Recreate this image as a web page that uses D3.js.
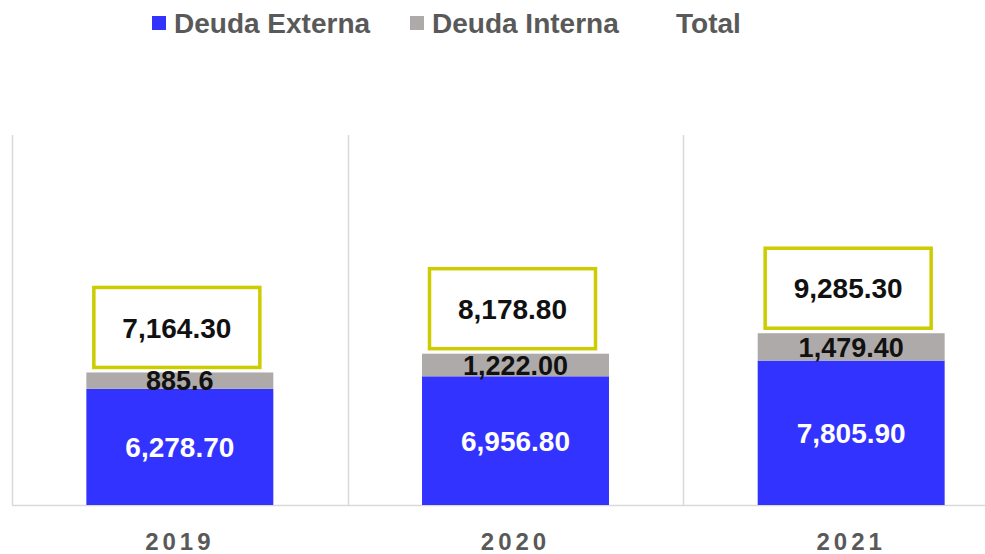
<!DOCTYPE html>
<html>
<head>
<meta charset="utf-8">
<script src="https://cdn.jsdelivr.net/npm/d3@7"></script>
<style>
  body { margin: 0; background: #fff; }
  svg { display: block; font-family: "Liberation Sans", Arial, sans-serif; }
</style>
</head>
<body>
<div id="chart"></div>
<script>
const years = ["2019", "2020", "2021"];
const deudaExterna = [6278.7, 6956.8, 7805.9];
const deudaInterna = [885.6, 1222.0, 1479.4];
const totals = [7164.3, 8178.8, 9285.3];
const externaLabels = ["6,278.70", "6,956.80", "7,805.90"];
const internaLabels = ["885.6", "1,222.00", "1,479.40"];
const totalLabels = ["7,164.30", "8,178.80", "9,285.30"];
const legendItems = ["Deuda Externa", "Deuda Interna", "Total"];

const width = 985, height = 554;
const colors = { ext: "#3333ff", int: "#aeaaaa", box: "#cccc00", grid: "#d9d9d9", axisText: "#595959" };

const svg = d3.select("#chart").append("svg")
  .attr("width", width).attr("height", height);

const x = d3.scaleBand().domain(years).range([12, 1019]).padding(0);
const y = d3.scaleLinear().domain([0, 20000]).range([505, 135]);
const barW = x.bandwidth() * 0.557;

// gridlines (category separators) and baseline
const grid = svg.append("g");
grid.selectAll("line.sep")
  .data(years)
  .join("line")
  .attr("class", "sep")
  .attr("x1", d => Math.round(x(d)) + 0.5).attr("x2", d => Math.round(x(d)) + 0.5)
  .attr("y1", y.range()[1]).attr("y2", y.range()[0])
  .attr("stroke", colors.grid).attr("stroke-width", 1.5);
grid.append("line")
  .attr("x1", x.range()[0]).attr("x2", width)
  .attr("y1", y(0) + 0.5).attr("y2", y(0) + 0.5)
  .attr("stroke", colors.grid).attr("stroke-width", 1.5);

const data = years.map((yr, i) => ({
  yr, ext: deudaExterna[i], int: deudaInterna[i], total: totals[i],
  extLabel: externaLabels[i], intLabel: internaLabels[i], totalLabel: totalLabels[i]
}));
const cx = d => x(d.yr) + x.bandwidth() / 2;

const bars = svg.append("g");
bars.selectAll("rect.ext")
  .data(data)
  .join("rect")
  .attr("class", "ext")
  .attr("x", d => cx(d) - barW / 2)
  .attr("width", barW)
  .attr("y", d => y(d.ext))
  .attr("height", d => y(0) - y(d.ext))
  .attr("fill", colors.ext);
bars.selectAll("rect.int")
  .data(data)
  .join("rect")
  .attr("class", "int")
  .attr("x", d => cx(d) - barW / 2)
  .attr("width", barW)
  .attr("y", d => y(d.ext + d.int))
  .attr("height", d => y(d.ext) - y(d.ext + d.int))
  .attr("fill", colors.int);

// segment labels
bars.selectAll("text.ext")
  .data(data)
  .join("text")
  .attr("class", "ext")
  .attr("x", cx)
  .attr("y", d => (y(0) + y(d.ext)) / 2)
  .attr("dy", "0.36em")
  .attr("text-anchor", "middle")
  .attr("fill", "#fff")
  .attr("font-weight", "bold")
  .attr("font-size", 28)
  .text(d => d.extLabel);
bars.selectAll("text.int")
  .data(data)
  .join("text")
  .attr("class", "int")
  .attr("x", cx)
  .attr("y", d => (y(d.ext) + y(d.ext + d.int)) / 2)
  .attr("dy", "0.36em")
  .attr("text-anchor", "middle")
  .attr("fill", "#111")
  .attr("font-weight", "bold")
  .attr("font-size", 27)
  .text(d => d.intLabel);

// total boxes
const boxW = 166, boxH = 80;
const tot = svg.append("g").selectAll("g")
  .data(data)
  .join("g")
  .attr("transform", d => `translate(${cx(d) - 3},${y(d.total) - 5 - boxH / 2})`);
tot.append("rect")
  .attr("x", -boxW / 2).attr("y", -boxH / 2)
  .attr("width", boxW).attr("height", boxH)
  .attr("fill", "#fff")
  .attr("stroke", colors.box).attr("stroke-width", 3.5);
tot.append("text")
  .attr("text-anchor", "middle")
  .attr("dy", "0.36em")
  .attr("fill", "#111")
  .attr("font-weight", "bold")
  .attr("font-size", 28)
  .text(d => d.totalLabel);

// x axis labels
svg.append("g").selectAll("text")
  .data(years)
  .join("text")
  .attr("x", d => x(d) + x.bandwidth() / 2)
  .attr("y", 550)
  .attr("text-anchor", "middle")
  .attr("fill", colors.axisText)
  .attr("font-weight", "bold")
  .attr("font-size", 24)
  .attr("letter-spacing", 4)
  .text(d => d);

// legend
const legendX = [152, 410, 676];
const legendColor = [colors.ext, colors.int, null];
const legend = svg.append("g").selectAll("g")
  .data(legendItems)
  .join("g")
  .attr("transform", (d, i) => `translate(${legendX[i]},23)`);
legend.filter((d, i) => legendColor[i])
  .append("rect")
  .attr("x", 0).attr("y", -7)
  .attr("width", 14).attr("height", 14)
  .attr("fill", d => legendColor[legendItems.indexOf(d)]);
legend.append("text")
  .attr("x", (d, i) => legendColor[i] ? 22 : 0)
  .attr("dy", "0.36em")
  .attr("fill", colors.axisText)
  .attr("font-weight", "bold")
  .attr("font-size", 28)
  .text(d => d);
</script>
</body>
</html>
